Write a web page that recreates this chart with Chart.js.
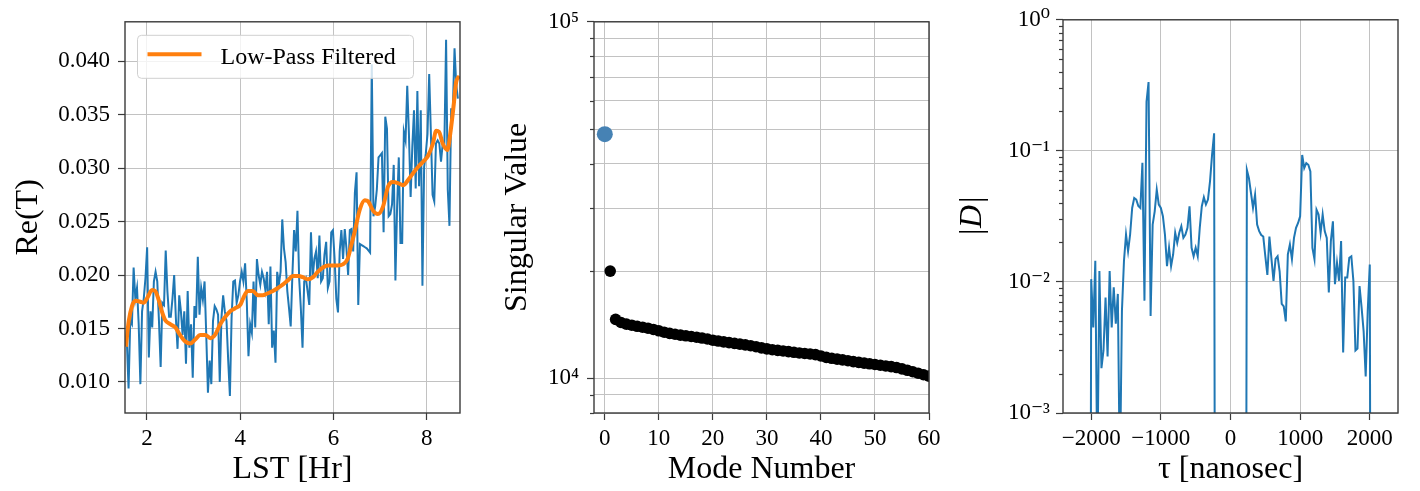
<!DOCTYPE html>
<html>
<head>
<meta charset="utf-8">
<title>Re(T), singular values and delay spectrum</title>
<script src="https://cdn.jsdelivr.net/npm/chart.js"></script>
<style>
  body { margin: 0; background: #fff; }
  #wrap { position: relative; width: 1420px; height: 491px; }
  canvas { position: absolute; top: 0; }
</style>
</head>
<body>
<div id="wrap">
  <canvas id="lstChart" width="470" height="491" style="left:0px"></canvas>
  <canvas id="svdChart" width="480" height="491" style="left:470px"></canvas>
  <canvas id="delayChart" width="470" height="491" style="left:950px"></canvas>
</div>
<script>
// ---- left panel: Re(T) against LST ----
const lstStart = 1.57;   // hr, first sample
const lstStep = 0.0362;  // hr between samples
const reT = [
  0.0138, 0.0094, 0.0157, 0.0154, 0.0207, 0.0178, 0.0188, 0.0154, 0.0098, 0.0166,
  0.0178, 0.0197, 0.0226, 0.0123, 0.0166, 0.0151, 0.0194, 0.0203, 0.0194, 0.0157,
  0.0114, 0.0174, 0.0172, 0.0223, 0.0185, 0.0161, 0.0161, 0.0178, 0.0200, 0.0160,
  0.0131, 0.0181, 0.0166, 0.0144, 0.0166, 0.0117, 0.0185, 0.0132, 0.0154, 0.0104,
  0.0171, 0.0160, 0.0217, 0.0163, 0.0188, 0.0177, 0.0194, 0.0144, 0.0090, 0.0120,
  0.0098, 0.0157, 0.0171, 0.0168, 0.0163, 0.0100, 0.0160, 0.0181, 0.0166, 0.0157,
  0.0120, 0.0087, 0.0160, 0.0194, 0.0195, 0.0174,
  0.0181, 0.0194, 0.0203, 0.0194, 0.0211, 0.0175, 0.0124, 0.0154, 0.0146, 0.0194,
  0.0151, 0.0215, 0.0200, 0.0191, 0.0203, 0.0197, 0.0186, 0.0203, 0.0154, 0.0208,
  0.0132, 0.0148, 0.0118, 0.0203, 0.0191, 0.0203, 0.0252, 0.0225, 0.0212, 0.0185,
  0.0169, 0.0152, 0.0200, 0.0242, 0.0222, 0.0260, 0.0197, 0.0169, 0.0132, 0.0194,
  0.0197, 0.0185, 0.0172, 0.0240, 0.0197, 0.0215, 0.0222, 0.0197, 0.0237, 0.0194,
  0.0197, 0.0219, 0.0231, 0.0188, 0.0194, 0.0240, 0.0242, 0.0215, 0.0178, 0.0165,
  0.0222, 0.0242, 0.0215, 0.0243, 0.0225, 0.0200, 0.0242, 0.0243, 0.0222, 0.0277,
  0.0296, 0.0172,
  0.0229, 0.0228, 0.0227, 0.0226, 0.0225, 0.0223, 0.0221,
  0.0397, 0.0255, 0.0264, 0.0280, 0.0310, 0.0312, 0.0314, 0.0240, 0.0348, 0.0337,
  0.0255, 0.0257, 0.0266, 0.0303, 0.0195, 0.0264, 0.0310, 0.0230, 0.0230, 0.0334,
  0.0326, 0.0377, 0.0332, 0.0273, 0.0320, 0.0354, 0.0281, 0.0372, 0.0283, 0.0354,
  0.0190, 0.0301, 0.0314, 0.0332, 0.0388, 0.0332, 0.0275, 0.0269, 0.0323, 0.0326,
  0.0323, 0.0306, 0.0323, 0.0323, 0.0420, 0.0280, 0.0246, 0.0355, 0.0355, 0.0412,
  0.0378, 0.0365
];
// low-pass filtered curve, read at its own LST positions
const lpLst = [
  1.55, 1.61, 1.68, 1.75, 1.86, 1.93, 2.00, 2.11, 2.18, 2.25, 2.32, 2.39, 2.50, 2.61,
  2.71, 2.82, 2.93, 3.04, 3.14, 3.25, 3.36, 3.46, 3.57, 3.68, 3.78, 3.89, 4.00, 4.06,
  4.16, 4.27, 4.38, 4.48, 4.59, 4.70, 4.81, 4.91, 5.02, 5.13, 5.24, 5.34, 5.45, 5.56,
  5.66, 5.77, 5.88, 5.98, 6.09, 6.20, 6.30, 6.38, 6.45, 6.56, 6.67, 6.74, 6.85, 6.95,
  7.06, 7.17, 7.27, 7.38, 7.49, 7.60, 7.70, 7.81, 7.92, 8.02, 8.13, 8.20, 8.26, 8.34,
  8.44, 8.51, 8.57, 8.63, 8.70
];
const lpReT = [
  0.0133, 0.0157, 0.0171, 0.0176, 0.0175, 0.0174, 0.0178, 0.0186, 0.0185, 0.0177, 0.0166, 0.0158, 0.0154, 0.0151,
  0.0144, 0.0138, 0.0136, 0.0140, 0.0144, 0.0144, 0.0141, 0.0144, 0.0154, 0.0161, 0.0166, 0.0169, 0.0172, 0.0178,
  0.0185, 0.0185, 0.0181, 0.0181, 0.0183, 0.0185, 0.0188, 0.0191, 0.0195, 0.0199, 0.0199, 0.0198, 0.0196, 0.0198,
  0.0203, 0.0207, 0.0209, 0.0209, 0.0209, 0.0210, 0.0215, 0.0228, 0.0240, 0.0261, 0.0270, 0.0269, 0.0260, 0.0257,
  0.0264, 0.0283, 0.0287, 0.0286, 0.0284, 0.0289, 0.0295, 0.0301, 0.0306, 0.0311, 0.0323, 0.0335, 0.0334, 0.0323,
  0.0317, 0.0335, 0.0357, 0.0381, 0.0386
];
const lstTicks = [2, 4, 6, 8];
const reTTicks = [0.010, 0.015, 0.020, 0.025, 0.030, 0.035, 0.040];

// ---- middle panel: singular values ----
const leadingMode = [0];
const leadingValue = [48400];
const svValues = [   // modes 1 .. 60
  20000, 14640, 14350, 14200, 14100, 14000, 13920, 13830, 13720, 13600,
  13480, 13380, 13300, 13230, 13170, 13110, 13050, 12980, 12900, 12800,
  12730, 12660, 12600, 12540, 12480, 12420, 12350, 12270, 12180, 12100,
  12040, 11990, 11940, 11890, 11840, 11790, 11750, 11710, 11660, 11560,
  11460, 11390, 11330, 11270, 11210, 11150, 11090, 11040, 10990, 10940,
  10890, 10840, 10790, 10730, 10640, 10540, 10440, 10340, 10240, 10150
];
const modeTicks = [0, 10, 20, 30, 40, 50, 60];
const svMajorTicks = [10000, 100000];
const svMajorLabels = ['10\u2074', '10\u2075'];
const svMinorTicks = [8000, 9000, 20000, 30000, 40000, 50000, 60000, 70000, 80000, 90000];

// ---- right panel: |D| against delay ----
const tauStart = -2029.4;  // ns
const tauStep = 29.41;     // ns
const absD = [
  0,
  0.0105, 0.0045, 0.0145, 0.0003, 0.0121, 0.0022, 0.0030, 0.0076, 0.0027, 0.0121,
  0.0045, 0.0091, 0.0048, 0.0081, 0.0003, 0.0060, 0.0145, 0.0230, 0.0172, 0.0230,
  0.0367, 0.0437, 0.0425, 0.0380, 0.0367, 0.0810, 0.0072, 0.2370, 0.3350, 0.0055,
  0.0274, 0.0346, 0.0506, 0.0389, 0.0367, 0.0317,
  0.0230, 0.0132, 0.0183, 0.0132, 0.0162, 0.0237, 0.0199, 0.0237, 0.0266, 0.0217,
  0.0230, 0.0259, 0.0378, 0.0182, 0.0157, 0.0182, 0.0157, 0.0259, 0.0378, 0.0443,
  0.0390, 0.0425, 0.0585, 0.0932, 0.1360,
  0, 0, 0, 0, 0, 0, 0, 0, 0, 0, 0, 0, 0, 0, 0,
  0.0717, 0.0620, 0.0477, 0.0367, 0.0463, 0.0274, 0.0244, 0.0228, 0.0222, 0.0157,
  0.0113, 0.0222, 0.0150, 0.0102, 0.0150, 0.0157, 0.0120, 0.0068, 0.0065, 0.0050,
  0.0162, 0.0193, 0.0149, 0.0217, 0.0259, 0.0282, 0.0317,
  0.0930, 0.0740, 0.0806, 0.0783, 0.0697, 0.0182, 0.0149, 0.0356, 0.0327, 0.0237,
  0.0327, 0.0244, 0.0217, 0.0083, 0.0205, 0.0290, 0.0096, 0.0140, 0.0102, 0.0205,
  0.0029, 0.0108, 0.0108, 0.0153, 0.0157, 0.0102, 0.0030, 0.0031, 0.0093, 0.0064,
  0.0042, 0.0019, 0.0060, 0.0136,
  0
];
const tauTicks = [-2000, -1000, 0, 1000, 2000];
const dMajorTicks = [0.001, 0.01, 0.1, 1];
const dMajorLabels = ['10\u207b\u00b3', '10\u207b\u00b2', '10\u207b\u00b9', '10\u2070'];
const dMinorTicks = [
  0.002, 0.003, 0.004, 0.005, 0.006, 0.007, 0.008, 0.009,
  0.02, 0.03, 0.04, 0.05, 0.06, 0.07, 0.08, 0.09,
  0.2, 0.3, 0.4, 0.5, 0.6, 0.7, 0.8, 0.9
];

// ---- styling ----
const FONT = "'Liberation Serif', 'DejaVu Serif', serif";
const BLUE = '#1f77b4';
const ORANGE = '#ff7f0e';
const SPINE = '#3a3a3a';
const GRID = '#c2c2c2';
const TICK_LEN = 7;

Chart.defaults.font.family = FONT;
Chart.defaults.color = '#000';

// spines on all four sides, plus short minor tick marks on the y axis
const framePlugin = {
  id: 'frame',
  afterDatasetsDraw(chart) {
    const a = chart.chartArea, ctx = chart.ctx;
    ctx.save();
    ctx.strokeStyle = SPINE;
    ctx.lineWidth = 1.2;
    const ys = chart.scales.y;
    ys.ticks.forEach(t => {
      if (t.major) return;
      const py = Math.round(ys.getPixelForValue(t.value)) + 0.5;
      ctx.beginPath();
      ctx.moveTo(a.left - 4, py);
      ctx.lineTo(a.left, py);
      ctx.stroke();
    });
    ctx.lineWidth = 1.4;
    ctx.strokeRect(a.left, a.top, a.right - a.left, a.bottom - a.top);
    ctx.restore();
  }
};

// matplotlib-style legend box inside the axes
const insetLegend = {
  id: 'insetLegend',
  afterDraw(chart, args, opts) {
    if (!opts.show) return;
    const a = chart.chartArea, ctx = chart.ctx;
    const ds = chart.data.datasets[opts.datasetIndex];
    const x = a.left + 12.5, y = a.top + 13.5, w = 276, h = 43;
    ctx.save();
    ctx.beginPath();
    if (ctx.roundRect) ctx.roundRect(x, y, w, h, 4); else ctx.rect(x, y, w, h);
    ctx.fillStyle = 'rgba(255,255,255,0.8)';
    ctx.fill();
    ctx.strokeStyle = '#d0d0d0';
    ctx.lineWidth = 1;
    ctx.stroke();
    ctx.strokeStyle = ds.borderColor;
    ctx.lineWidth = ds.borderWidth;
    ctx.beginPath();
    ctx.moveTo(x + 10, y + 19);
    ctx.lineTo(x + 64, y + 19);
    ctx.stroke();
    ctx.fillStyle = '#000';
    ctx.font = '24px ' + FONT;
    ctx.textBaseline = 'alphabetic';
    ctx.fillText(ds.label, x + 83, y + 28.5);
    ctx.restore();
  }
};

function setTicks(major, minor) {
  return scale => {
    const list = major.map(v => ({ value: v, major: true }))
      .concat((minor || []).map(v => ({ value: v, major: false })));
    list.sort((p, q) => p.value - q.value);
    scale.ticks = list;
  };
}

function title(text, padding, style) {
  return { display: true, text, color: '#000', padding,
           font: { family: FONT, size: 32, style: style || 'normal' } };
}

function xAxis(opts) {
  return Object.assign({
    type: 'linear',
    afterFit: s => { s.height = 78; },
    border: { display: false },
    grid: { color: GRID, lineWidth: 1, tickColor: SPINE, tickLength: TICK_LEN, tickWidth: 1.2 },
    ticks: { autoSkip: false, maxRotation: 0, padding: 5, color: '#000', font: { family: FONT, size: 23 } }
  }, opts);
}

function yAxis(width, opts, gridOpts, tickPad) {
  return Object.assign({
    afterFit: s => { s.width = width; },
    border: { display: false },
    grid: Object.assign({ color: GRID, lineWidth: 1, tickColor: SPINE, tickLength: TICK_LEN, tickWidth: 1.2 }, gridOpts || {}),
    ticks: { autoSkip: false, padding: tickPad, color: '#000', font: { family: FONT, size: 23 } }
  }, opts);
}

function baseOptions(padRight) {
  return {
    responsive: false,
    animation: false,
    devicePixelRatio: 1,
    layout: { padding: { top: 17, right: padRight, left: 0, bottom: 0 } },
    plugins: { legend: { display: false }, tooltip: { enabled: false } }
  };
}

// ---- left chart ----
const leftOpts = baseOptions(10);
leftOpts.plugins.insetLegend = { show: true, datasetIndex: 0 };
leftOpts.scales = {
  x: xAxis({
    min: 1.53, max: 8.71,
    afterBuildTicks: setTicks(lstTicks),
    title: title('LST [Hr]', { top: 0, bottom: 2 })
  }),
  y: yAxis(125, {
    type: 'linear', min: 0.0071, max: 0.04368,
    afterBuildTicks: setTicks(reTTicks),
    title: title('Re(T)', { top: 9, bottom: 0 })
  }, null, 8)
};
leftOpts.scales.x.ticks.callback = v => String(v);
leftOpts.scales.y.ticks.callback = v => v.toFixed(3);

new Chart(document.getElementById('lstChart'), {
  type: 'line',
  data: {
    datasets: [
      {
        label: 'Low-Pass Filtered',
        data: lpLst.map((x, i) => ({ x, y: lpReT[i] })),
        borderColor: ORANGE, borderWidth: 4, pointRadius: 0,
        cubicInterpolationMode: 'monotone', order: 0
      },
      {
        label: 'Re(T)',
        data: reT.map((y, i) => ({ x: lstStart + i * lstStep, y })),
        borderColor: BLUE, borderWidth: 2, pointRadius: 0, tension: 0, order: 1
      }
    ]
  },
  options: leftOpts,
  plugins: [framePlugin, insetLegend]
});

// ---- middle chart ----
const midOpts = baseOptions(21);
midOpts.scales = {
  x: xAxis({
    min: -2, max: 60,
    afterBuildTicks: setTicks(modeTicks),
    title: title('Mode Number', { top: 0, bottom: 2 })
  }),
  y: yAxis(124, {
    type: 'logarithmic', min: 8000, max: 100000,
    afterBuildTicks: setTicks(svMajorTicks, svMinorTicks),
    title: title('Singular Value', { top: 28, bottom: 0 })
  }, {
    tickColor: c => (c.tick && c.tick.major) ? SPINE : 'rgba(0,0,0,0)'
  }, 8)
};
midOpts.scales.x.ticks.callback = v => String(v);
midOpts.scales.y.ticks.callback = v => {
  const k = svMajorTicks.indexOf(v);
  return k >= 0 ? svMajorLabels[k] : '';
};

new Chart(document.getElementById('svdChart'), {
  type: 'scatter',
  data: {
    datasets: [
      {
        label: 'leading mode',
        data: leadingMode.map((x, i) => ({ x, y: leadingValue[i] })),
        backgroundColor: '#4682b4', borderWidth: 0, pointRadius: 8, order: 0
      },
      {
        label: 'other modes',
        data: svValues.map((y, i) => ({ x: i + 1, y })),
        backgroundColor: '#000', borderWidth: 0, pointRadius: 5.8, order: 1
      }
    ]
  },
  options: midOpts,
  plugins: [framePlugin]
});

// ---- right chart ----
const rightOpts = baseOptions(22);
rightOpts.scales = {
  x: xAxis({
    min: -2405, max: 2405,
    afterBuildTicks: setTicks(tauTicks),
    title: title('\u03c4 [nanosec]', { top: 0, bottom: 2 })
  }),
  y: yAxis(113, {
    type: 'logarithmic', min: 0.001, max: 1,
    afterBuildTicks: setTicks(dMajorTicks, dMinorTicks),
    title: title('|D|', { top: 3, bottom: 0 }, 'italic')
  }, {
    color: c => (c.tick && c.tick.major) ? GRID : 'rgba(0,0,0,0)',
    tickColor: c => (c.tick && c.tick.major) ? SPINE : 'rgba(0,0,0,0)'
  }, 6)
};
rightOpts.scales.x.ticks.callback = v => (v < 0 ? '\u2212' + Math.abs(v) : String(v));
rightOpts.scales.y.ticks.callback = v => {
  const k = dMajorTicks.findIndex(m => Math.abs(m - v) < m * 1e-6);
  return k >= 0 ? dMajorLabels[k] : '';
};

// zero values are pushed far below the axis, as a log plot clips them
new Chart(document.getElementById('delayChart'), {
  type: 'line',
  data: {
    datasets: [{
      label: '|D|',
      data: absD.map((y, i) => ({ x: tauStart + i * tauStep, y: y > 0 ? y : 1e-9 })),
      borderColor: BLUE, borderWidth: 2, pointRadius: 0, tension: 0
    }]
  },
  options: rightOpts,
  plugins: [framePlugin]
});
</script>
</body>
</html>
